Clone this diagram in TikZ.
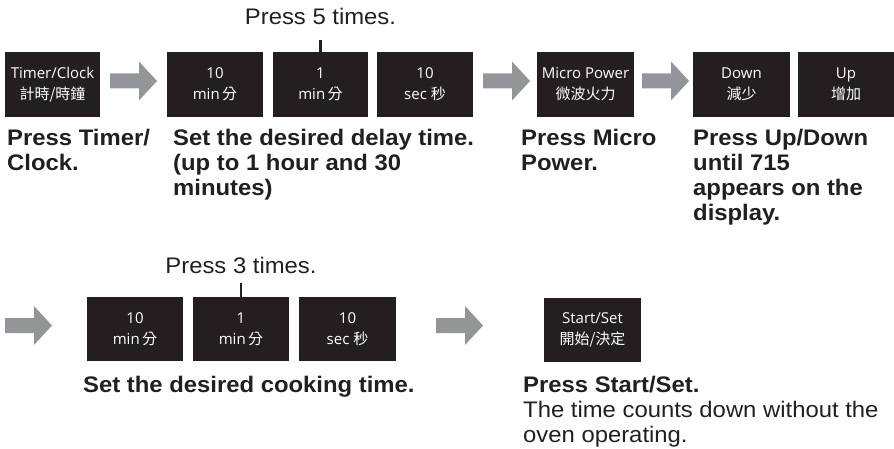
\documentclass[tikz,border=0pt]{standalone}
\usepackage{fontspec}
\setmainfont[FakeStretch=1.06]{Liberation Sans}
\newfontfamily\btnfont{Open Sans}
\newfontfamily\cjk{Noto Sans CJK TC}
\definecolor{ink}{HTML}{231F20}
\definecolor{agray}{HTML}{939598}
\begin{document}
\begin{tikzpicture}[x=1pt,y=-1pt,
  btn/.style={rectangle, fill=ink, text=white, minimum width=96pt, minimum height=65pt,
    inner sep=0pt, align=center, font=\btnfont\fontsize{15}{21}\selectfont},
  lbl/.style={anchor=north west, inner sep=0pt, align=left, text=ink,
    font=\bfseries\fontsize{22.5}{25}\selectfont},
  note/.style={inner sep=0pt, text=ink, font=\fontsize{22.5}{25}\selectfont},
  tick/.style={draw=ink, line width=2.2pt},
  blockarrow/.pic={\fill[agray] (0,-7.5) -- (29,-7.5) -- (29,-19.5) -- (47,0) -- (29,19.5) -- (29,7.5) -- (0,7.5) -- cycle;}]
\useasboundingbox (0,0) rectangle (894,449);

% top row buttons
\node[btn, minimum width=95pt] (timer) at (52.5,84.5) {Timer/Clock\\{\cjk 計時/時鐘}};
\node[btn] (tenmin) at (215,84.5) {10\\min\,{\cjk 分}};
\node[btn, minimum width=95pt] (onemin) at (320.5,84.5) {1\\min\,{\cjk 分}};
\node[btn] (tensec) at (425,84.5) {10\\sec {\cjk 秒}};
\node[btn, minimum width=97pt] (micro) at (585.5,84.5) {Micro Power\\{\cjk 微波火力}};
\node[btn, minimum width=97pt] (down) at (741.5,84.5) {Down\\{\cjk 減少}};
\node[btn] (up) at (846,84.5) {Up\\{\cjk 增加}};

% top row arrows
\pic at (110,81) {blockarrow};
\pic at (483,81) {blockarrow};
\pic at (642,81) {blockarrow};

% press 5 times
\node[note, anchor=base] (p5) at (320.5,24.5) {Press 5 times.};
\coordinate (p5end) at (320.5,40);
\draw[tick] (p5end) -- (onemin.north);

% top labels
\node[lbl] (l1) at (7,128.5) {Press Timer/\\Clock.};
\node[lbl] (l2) at (173,128.5) {Set the desired delay time.\\(up to 1 hour and 30\\minutes)};
\node[lbl] (l3) at (521,128.5) {Press Micro\\Power.};
\node[lbl] (l4) at (693,128.5) {Press Up/Down\\until 715\\appears on the\\display.};

% bottom row
\pic at (5,325.5) {blockarrow};
\node[btn, minimum height=64pt] (tenmin2) at (135,329) {10\\min\,{\cjk 分}};
\node[btn, minimum height=64pt] (onemin2) at (241,329) {1\\min\,{\cjk 分}};
\node[btn, minimum height=64pt, minimum width=97pt] (tensec2) at (347.5,329) {10\\sec {\cjk 秒}};
\pic at (436,325.5) {blockarrow};
\node[btn, minimum height=64pt, minimum width=97pt] (start) at (592.5,329.5) {Start/Set\\{\cjk 開始/決定}};

\node[note, anchor=base] (p3) at (241,273) {Press 3 times.};
\coordinate (p3end) at (241,283);
\draw[tick] (p3end) -- (onemin2.north);

\node[lbl] (l5) at (83,375.5) {Set the desired cooking time.};
\node[lbl, font=\fontsize{22.5}{25}\selectfont] (l6) at (523,375.5) {\textbf{Press Start/Set.}\\The time counts down without the\\oven operating.};
\end{tikzpicture}
\end{document}
